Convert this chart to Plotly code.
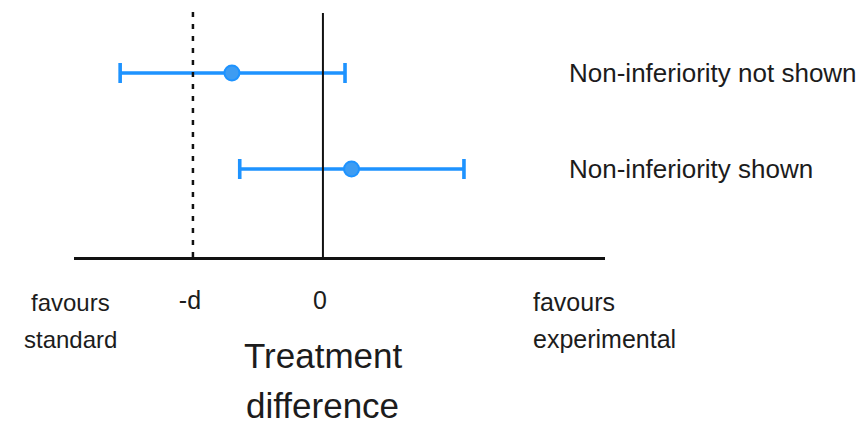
import plotly.graph_objects as go

# Non-inferiority forest plot: point estimate with confidence interval per scenario
rows = ["Non-inferiority shown", "Non-inferiority not shown"]
estimate = [0.22, -0.70]
ci_low = [-0.64, -1.56]
ci_high = [1.085, 0.17]

margin_d = 1.0                     # non-inferiority margin, drawn at -d
tick_vals = [-margin_d, 0.0]
tick_text = ["-d", "0"]
x_range = [-1.915, 2.17]

W, H = 864, 428
ML, MR, MT, MB = 74, 259, 0, 171
PW, PH = W - ML - MR, H - MT - MB

FONT = "Liberation Sans, Arial, sans-serif"
TXT = "#1c1c1c"
BLUE = "#1E93FF"


def px_x(p):
    return (p - ML) / PW


def px_y(p):
    return (H - MB - p) / PH


fig = go.Figure()

fig.add_trace(go.Scatter(
    x=estimate,
    y=rows,
    mode="markers",
    marker=dict(size=15, color="#3E9CF2", line=dict(color=BLUE, width=2)),
    error_x=dict(
        type="data",
        symmetric=False,
        array=[h - e for h, e in zip(ci_high, estimate)],
        arrayminus=[e - lo for e, lo in zip(estimate, ci_low)],
        color=BLUE,
        thickness=3.6,
        width=10,
    ),
    showlegend=False,
    hoverinfo="skip",
))

# reference lines: no difference (solid) and the margin -d (dashed)
fig.add_shape(type="line", xref="x", yref="paper", x0=0, x1=0,
              y0=0, y1=px_y(13), line=dict(color="#111111", width=2))
fig.add_shape(type="line", xref="x", yref="paper", x0=-margin_d, x1=-margin_d,
              y0=0, y1=px_y(10), line=dict(color="#111111", width=2.5, dash="5px,7px"))

annotations = []
for r in rows:
    annotations.append(dict(text=r, xref="paper", yref="y", x=px_x(567), y=r,
                            xanchor="left", yanchor="middle", showarrow=False,
                            font=dict(size=26, color=TXT, family=FONT)))

for line_text, yp in [("favours", 302), ("standard", 339)]:
    annotations.append(dict(text=line_text, xref="paper", yref="paper",
                            x=px_x(70), y=px_y(yp), xanchor="center", yanchor="middle",
                            showarrow=False, font=dict(size=24, color=TXT, family=FONT)))

for line_text, yp in [("favours", 302), ("experimental", 339)]:
    annotations.append(dict(text=line_text, xref="paper", yref="paper",
                            x=px_x(531), y=px_y(yp), xanchor="left", yanchor="middle",
                            showarrow=False, font=dict(size=25, color=TXT, family=FONT)))

for line_text, yp in [("Treatment", 355), ("difference", 405)]:
    annotations.append(dict(text=line_text, xref="x", yref="paper",
                            x=0, y=px_y(yp), xanchor="center", yanchor="middle",
                            showarrow=False, font=dict(size=35, color=TXT, family=FONT)))

fig.update_layout(
    width=W, height=H,
    margin=dict(l=ML, r=MR, t=MT, b=MB, pad=0),
    paper_bgcolor="white",
    plot_bgcolor="white",
    annotations=annotations,
    xaxis=dict(
        range=x_range,
        showline=True, linecolor="#111111", linewidth=3,
        showgrid=False, zeroline=False,
        ticks="", tickvals=tick_vals, ticktext=tick_text,
        tickfont=dict(size=25, color=TXT, family=FONT),
        ticklabelstandoff=19,
        ticklabelshift=-3,
        fixedrange=True,
    ),
    yaxis=dict(
        type="category", categoryorder="array", categoryarray=rows,
        range=[-0.917, 1.760],
        visible=False, fixedrange=True,
    ),
)

fig.write_html("out.html")
